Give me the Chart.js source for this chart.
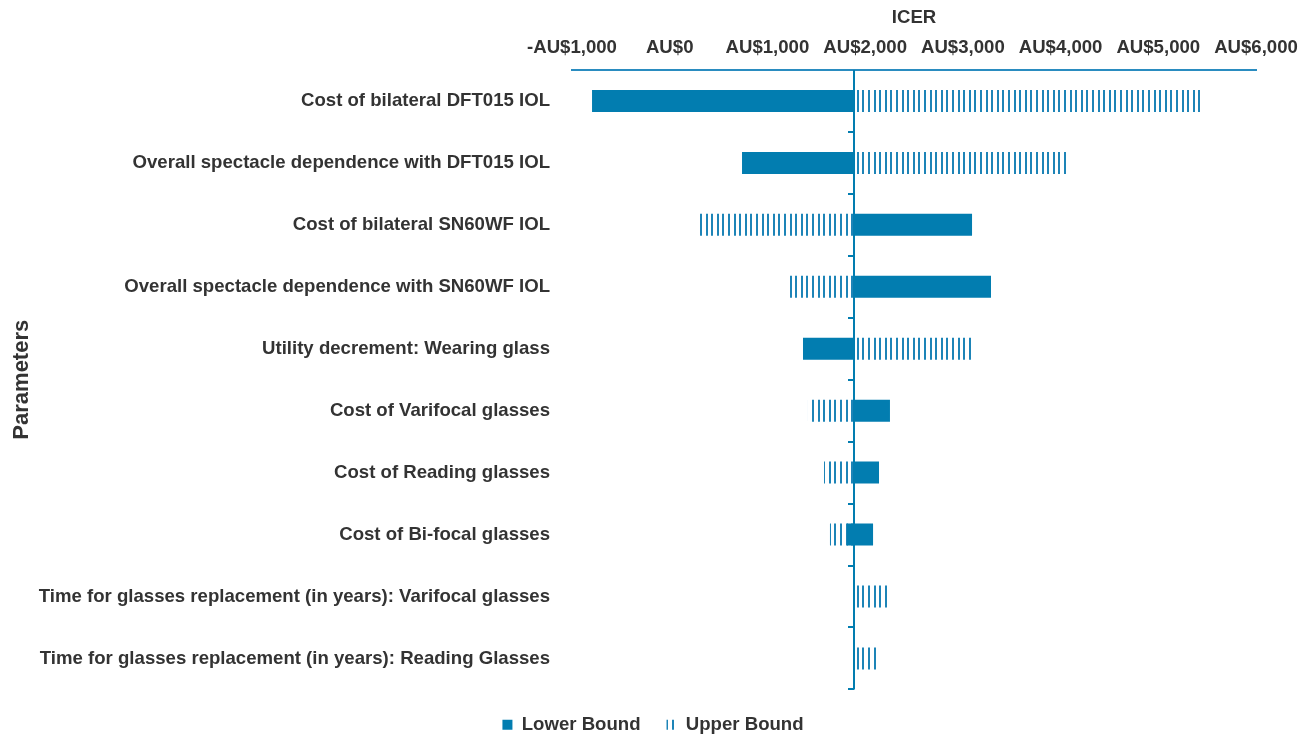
<!DOCTYPE html>
<html>
<head>
<meta charset="utf-8">
<title>ICER tornado chart</title>
<script src="https://cdn.jsdelivr.net/npm/chart.js@4/dist/chart.umd.min.js"></script>
<style>
  html, body { margin: 0; padding: 0; background: #ffffff; }
  #wrap { width: 1310px; height: 736px; }
</style>
</head>
<body>
<div id="wrap"><canvas id="tornado"></canvas></div>
<script>
// Parameters (top to bottom)
const parameters = [
  'Cost of bilateral DFT015 IOL',
  'Overall spectacle dependence with DFT015 IOL',
  'Cost of bilateral SN60WF IOL',
  'Overall spectacle dependence with SN60WF IOL',
  'Utility decrement: Wearing glass',
  'Cost of Varifocal glasses',
  'Cost of Reading glasses',
  'Cost of Bi-focal glasses',
  'Time for glasses replacement (in years): Varifocal glasses',
  'Time for glasses replacement (in years): Reading Glasses'
];

// Base-case ICER (where the vertical axis crosses)
const baseIcer = 1886;

// ICER at lower / upper bound of each parameter (AU$)
const lowerBound = [-795, 740, 3094, 3288, 1364, 2254, 2142, 2081, 1886, 1886];
const upperBound = [5458, 4076, 310, 1231, 3094, 1415, 1579, 1640, 2234, 2121];
// lower-bound bars start at the base case, except Bi-focal glasses
const lowerFrom = [1886, 1886, 1886, 1886, 1886, 1886, 1886, 1814, 1886, 1886];

// Axis ticks
const icerTicks = [-1000, 0, 1000, 2000, 3000, 4000, 5000, 6000];
const icerTickLabels = ['-AU$1,000', 'AU$0', 'AU$1,000', 'AU$2,000', 'AU$3,000', 'AU$4,000', 'AU$5,000', 'AU$6,000'];

const SOLID_BLUE = '#027db0';
const HATCH_BLUE = '#1d84b7';
const AXIS_BLUE = '#2a8cc0';
const TEXT = '#333333';
const FONT = "'Liberation Sans', Arial, sans-serif";
const FS = 18.6;

Chart.defaults.font.family = FONT;
Chart.defaults.color = TEXT;

const ctx = document.getElementById('tornado').getContext('2d');

/**
 * Vertical line pattern for the upper bound bars
 */
function makeHatch() {
  const tile = document.createElement('canvas');
  tile.width = 28;
  tile.height = 10;
  const g = tile.getContext('2d');
  g.fillStyle = HATCH_BLUE;
  [0, 6, 11, 17, 22].forEach(x => g.fillRect(x, 0, 2, 10));
  return ctx.createPattern(tile, 'repeat');
}

// Vertical axis drawn at the base-case ICER with ticks between categories
const baseAxis = {
  id: 'baseAxis',
  afterDatasetsDraw(chart) {
    const { ctx: c, scales: { x, y } } = chart;
    const px = Math.round(x.getPixelForValue(baseIcer));
    c.save();
    c.strokeStyle = SOLID_BLUE;
    c.lineWidth = 2;
    c.beginPath();
    c.moveTo(px, y.top);
    c.lineTo(px, y.bottom);
    for (let i = 1; i <= parameters.length; i++) {
      const ty = Math.round(y.getPixelForValue(i - 0.5));
      c.moveTo(px, ty);
      c.lineTo(px - 6, ty);
    }
    c.stroke();
    c.restore();
  }
};

new Chart(ctx, {
  type: 'bar',
  data: {
    labels: parameters,
    datasets: [
      {
        label: 'Lower Bound',
        data: lowerBound.map((v, i) => [lowerFrom[i], v]),
        backgroundColor: SOLID_BLUE,
        borderWidth: 0,
        grouped: false,
        barPercentage: 0.355,
        categoryPercentage: 1
      },
      {
        label: 'Upper Bound',
        data: upperBound.map(v => [baseIcer, v]),
        backgroundColor: makeHatch(),
        borderWidth: 0,
        grouped: false,
        barPercentage: 0.355,
        categoryPercentage: 1
      }
    ]
  },
  options: {
    indexAxis: 'y',
    responsive: true,
    maintainAspectRatio: false,
    animation: false,
    layout: {
      padding: { left: 0, right: 4, top: 0, bottom: -8 }
    },
    plugins: {
      tooltip: { enabled: false },
      legend: {
        position: 'bottom',
        labels: {
          boxWidth: 10,
          boxHeight: 10,
          padding: 26,
          color: TEXT,
          font: { size: FS, weight: 'bold' }
        }
      }
    },
    scales: {
      x: {
        position: 'top',
        min: -1000,
        max: 6000,
        afterBuildTicks: scale => {
          scale.ticks = icerTicks.map(v => ({ value: v }));
        },
        afterFit: scale => {
          scale.height = 70;
        },
        grid: { display: false, drawTicks: false },
        border: { display: true, color: AXIS_BLUE, width: 2 },
        ticks: {
          padding: 11,
          color: TEXT,
          font: { size: FS, weight: 'bold' },
          maxRotation: 0,
          autoSkip: false,
          callback: (value, index) => icerTickLabels[index]
        },
        title: {
          display: true,
          text: 'ICER',
          color: TEXT,
          font: { size: FS, weight: 'bold' },
          padding: { top: 7, bottom: 9 }
        }
      },
      y: {
        afterFit: scale => {
          scale.width = 572;
        },
        grid: { display: false, drawTicks: false },
        border: { display: false },
        ticks: {
          padding: 22,
          color: TEXT,
          font: { size: FS, weight: 'bold' },
          autoSkip: false
        },
        title: {
          display: true,
          text: 'Parameters',
          color: TEXT,
          font: { size: 22, weight: 'bold' },
          padding: { top: 9, bottom: 0 }
        }
      },
      // empty right-hand margin so the plot ends where the reference does
      yRight: {
        type: 'category',
        position: 'right',
        afterFit: scale => {
          scale.width = 50;
        },
        grid: { display: false, drawTicks: false },
        border: { display: false },
        ticks: { display: false }
      }
    }
  },
  plugins: [baseAxis]
});
</script>
</body>
</html>
